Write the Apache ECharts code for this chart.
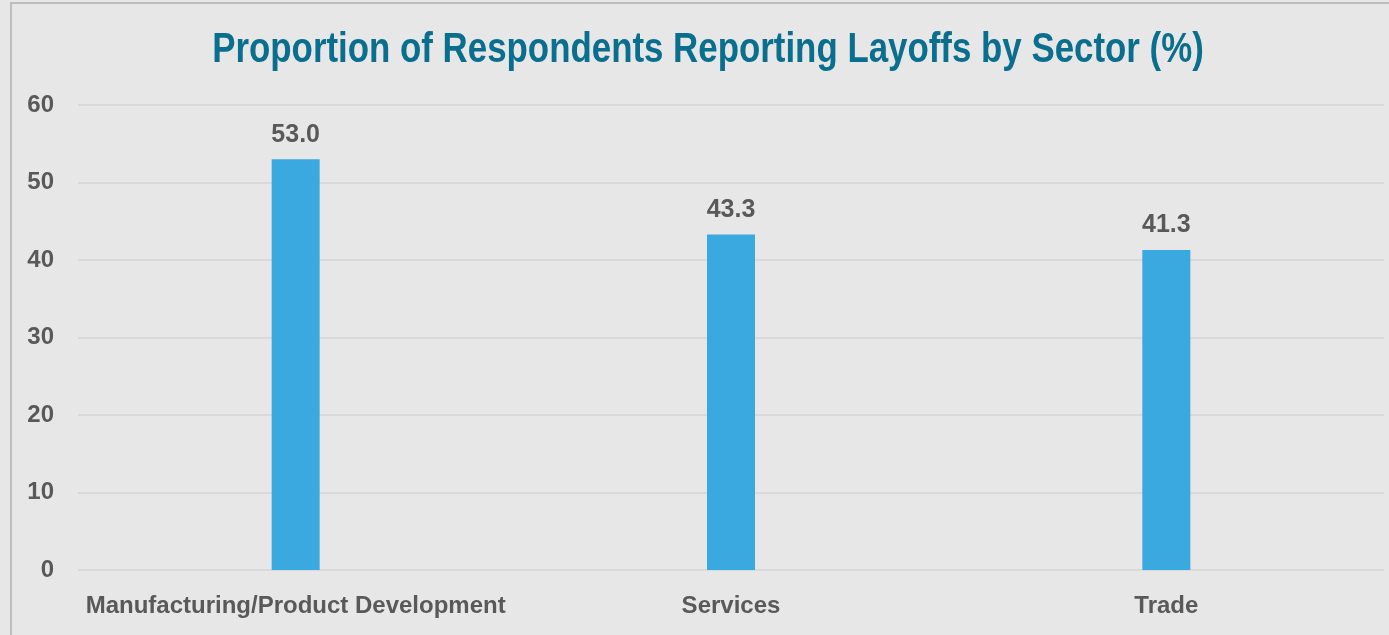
<!DOCTYPE html>
<html>
<head>
<meta charset="utf-8">
<script src="https://cdn.jsdelivr.net/npm/echarts@6/dist/echarts.min.js"></script>
<style>
  html, body { margin: 0; padding: 0; background: #e7e7e7; }
  #frame { position: absolute; left: 10px; top: 2px; width: 1400px; height: 660px;
           border: 2px solid #bdbdbd; box-sizing: border-box; }
  #chart { position: absolute; left: 0; top: 0; width: 1389px; height: 635px; }
</style>
</head>
<body>
<div id="frame"></div>
<div id="chart"></div>
<script>
const titleText = 'Proportion of Respondents Reporting Layoffs by Sector (%)';
const sectors = ['Manufacturing/Product Development', 'Services', 'Trade'];
const layoffShare = [53.0, 43.3, 41.3];
const yTicks = { min: 0, max: 60, interval: 10 };

const font = '"Liberation Sans Narrow", "Arial Narrow", "Liberation Sans", sans-serif';
const chart = echarts.init(document.getElementById('chart'));
chart.setOption({
  backgroundColor: 'transparent',
  // condensed bold heading, drawn as a graphic so it can be narrowed
  graphic: [{
    type: 'text',
    x: 708, y: 50,
    scaleX: 0.83,
    style: {
      text: titleText,
      font: 'bold 42px ' + font,
      fill: '#0a6f8f',
      align: 'center',
      verticalAlign: 'middle'
    }
  }],
  grid: { left: 78, right: 5, top: 105, bottom: 65, containLabel: false },
  xAxis: {
    type: 'category',
    data: sectors,
    axisLine: { show: false },
    axisTick: { show: false },
    axisLabel: { margin: 24, fontFamily: font, fontWeight: 'bold', fontSize: 24, color: '#595959', interval: 0 }
  },
  yAxis: {
    type: 'value',
    min: yTicks.min, max: yTicks.max, interval: yTicks.interval,
    axisLine: { show: false },
    axisTick: { show: false },
    axisLabel: { margin: 24, fontFamily: font, fontWeight: 'bold', fontSize: 24, color: '#595959' },
    splitLine: { lineStyle: { color: '#d9d9d9', width: 2 } }
  },
  series: [{
    type: 'bar',
    data: layoffShare,
    barWidth: 48,
    itemStyle: { color: '#3aa9e0' },
    label: {
      show: true, position: 'top', distance: 12,
      formatter: p => p.value.toFixed(1),
      fontFamily: font, fontWeight: 'bold', fontSize: 25, color: '#595959'
    }
  }]
});
</script>
</body>
</html>
